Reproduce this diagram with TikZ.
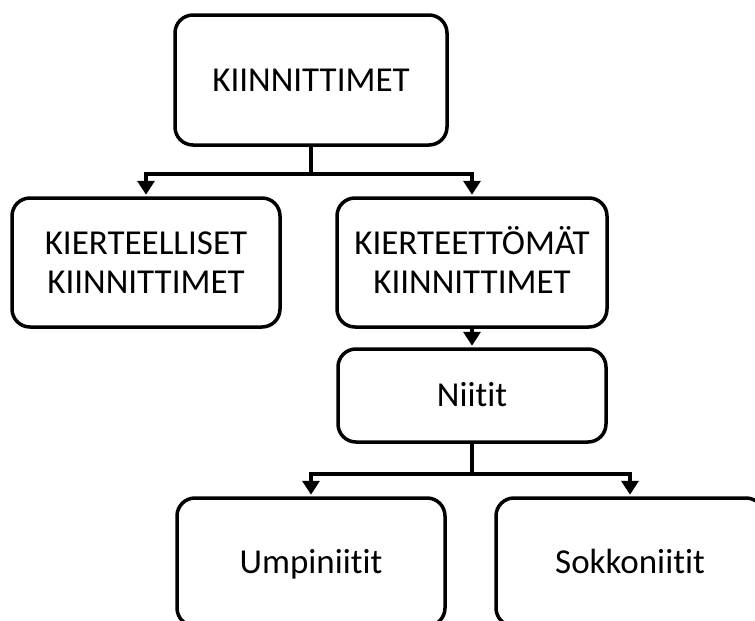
\documentclass[tikz,border=0pt]{standalone}
\usepackage{fontspec}
\setmainfont{Carlito}[Ligatures={NoCommon,NoContextual}]
\usetikzlibrary{arrows.meta}
\newcommand{\twolines}[2]{\begin{tabular}[t]{@{}c@{}}#1\\#2\end{tabular}}
\tikzset{
  box/.style={draw=black, line width=3.5pt, rounded corners=18pt, fill=white,
    inner sep=0pt, font=\fontsize{35}{39}\selectfont,
    text height=22pt, text depth=0pt},
  twobox/.style={box, text depth=39pt},
  conn/.style={draw=black, line width=3.5pt},
  arr/.style={conn, shorten >=1.5pt, -{Triangle[width=17pt,length=14pt]}}
}
\begin{document}
\begin{tikzpicture}[x=1pt,y=-1pt]
\clip (0,0) rectangle (755,621);
\fill[white] (0,0) rectangle (755,621);
\node[box, minimum width=272pt, minimum height=130pt] (top) at (311,80) {KIINNITTIMET};
\node[twobox, minimum width=268pt, minimum height=129pt] (left) at (146,262.5) {\twolines{KIERTEELLISET}{KIINNITTIMET}};
\node[twobox, minimum width=270pt, minimum height=129pt] (mid) at (472,262.5) {\twolines{KIERTEETTÖMÄT}{KIINNITTIMET}};
\node[box, minimum width=268pt, minimum height=93pt] (niit) at (472,395.5) {Niitit};
\node[box, minimum width=268pt, minimum height=128pt] (ump) at (311,562) {Umpiniitit};
\node[box, minimum width=268pt, minimum height=128pt] (sok) at (630,562) {Sokkoniitit};
\draw[conn] (top.south) -- ++(0,27) coordinate (j1);
\draw[arr] (j1) -| (left.north);
\draw[arr] (j1) -| (mid.north);
\draw[arr] (mid.south) -- (niit.north);
\draw[conn] (niit.south) -- ++(0,30) coordinate (j2);
\draw[arr] (j2) -| (ump.north);
\draw[arr] (j2) -| (sok.north);
\end{tikzpicture}
\end{document}
